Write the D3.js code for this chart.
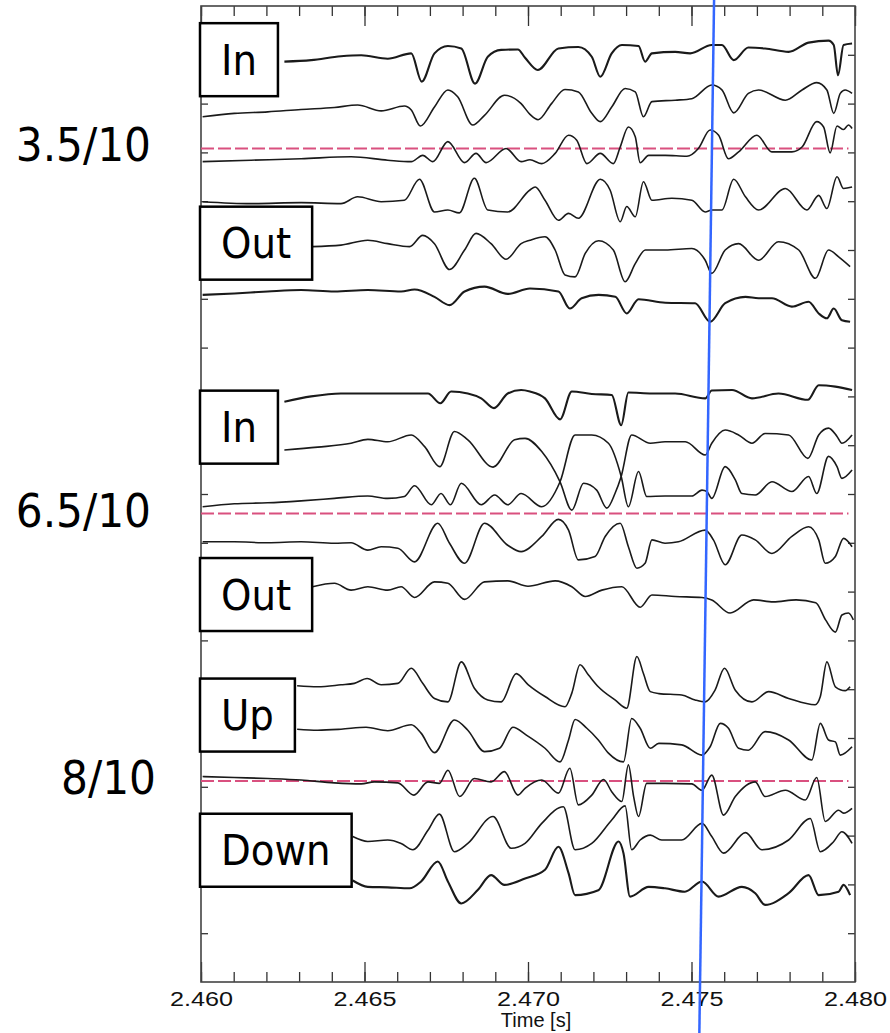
<!DOCTYPE html>
<html>
<head>
<meta charset="utf-8">
<script src="https://cdn.jsdelivr.net/npm/d3@7"></script>
<style>
  body { margin: 0; background: #fff; }
  svg { display: block; }
</style>
</head>
<body>
<svg id="chart" width="890" height="1033"></svg>
<script>
// time in ms after 2.460 s, signal in axis units (one unit per y tick)
var probeA1 = [[2.55,18.86],[3.37,18.89],[4.28,18.97],[4.90,18.99],[5.71,18.92],[6.43,19.03],[6.75,18.45],[7.14,19.03],[7.55,19.18],[7.96,19.13],[8.38,18.41],[8.77,18.96],[9.18,19.10],[9.69,19.11],[9.91,18.94],[10.30,18.69],[10.93,19.13],[11.54,19.16],[11.95,18.96],[12.21,18.55],[12.56,19.03],[12.87,19.20],[13.38,19.18],[13.58,18.86],[13.79,19.03],[14.50,19.06],[14.96,19.03],[15.62,19.20],[15.93,19.20],[16.29,18.89],[16.74,19.15],[17.25,19.13],[17.97,19.06],[18.58,19.25],[19.19,19.29],[19.35,19.20],[19.48,18.58],[19.65,19.20],[19.91,19.23]];
var probeA2 = [[0.05,17.73],[1.02,17.80],[2.04,17.83],[3.06,17.88],[4.08,17.92],[4.79,17.97],[5.51,17.85],[6.22,17.95],[6.43,17.87],[6.71,17.54],[7.14,17.93],[7.55,18.28],[7.85,18.14],[8.31,17.56],[8.67,17.76],[9.28,18.17],[9.79,18.00],[10.06,17.78],[10.31,17.67],[10.72,18.00],[11.13,18.29],[11.54,18.24],[11.95,17.80],[12.21,17.63],[12.56,17.93],[12.97,18.31],[13.28,18.24],[13.53,17.73],[13.79,18.04],[14.50,18.07],[15.01,18.10],[15.62,18.38],[15.93,18.28],[16.29,17.81],[16.74,18.21],[17.05,18.28],[17.87,18.07],[18.38,18.28],[18.83,18.43],[19.14,18.28],[19.35,17.80],[19.55,18.21],[19.70,18.28],[19.91,18.21]];
var probeA3 = [[0.05,16.81],[1.53,16.84],[3.06,16.87],[4.59,16.91],[5.71,16.84],[6.43,16.81],[6.78,16.94],[7.09,16.81],[7.55,17.22],[8.06,16.79],[8.41,16.98],[8.72,16.79],[9.33,17.08],[9.79,16.81],[10.06,16.85],[10.42,16.77],[10.83,16.98],[11.24,17.35],[11.49,17.25],[11.80,16.77],[12.21,16.98],[12.61,16.77],[12.82,17.11],[13.07,17.52],[13.28,17.32],[13.43,16.79],[13.69,16.94],[14.20,16.94],[14.86,16.92],[15.21,17.08],[15.57,17.46],[15.83,17.35],[16.13,16.87],[16.44,17.01],[17.00,17.35],[17.46,17.01],[18.07,17.01],[18.38,17.11],[18.83,17.63],[19.04,17.52],[19.24,16.99],[19.45,17.54],[19.65,17.47],[19.80,17.56],[19.91,17.49]];
var probeA4 = [[0.05,15.99],[1.53,15.95],[3.06,15.97],[4.28,15.95],[4.79,16.09],[5.51,15.99],[6.22,16.02],[6.68,16.45],[7.14,15.78],[7.55,15.82],[7.90,15.76],[8.36,16.47],[8.77,15.82],[9.38,15.78],[10.06,16.23],[10.22,16.29],[10.52,16.02],[10.93,15.61],[11.24,15.75],[11.54,15.65],[12.21,16.45],[12.51,16.23],[12.82,15.58],[13.02,15.89],[13.28,15.68],[13.53,16.40],[13.79,16.02],[14.40,16.06],[15.01,16.02],[15.42,15.78],[15.62,15.82],[15.93,15.82],[16.29,16.45],[16.65,16.09],[17.05,15.82],[17.87,16.26],[18.53,15.82],[18.89,16.12],[19.14,15.85],[19.45,16.50],[19.65,16.26],[19.91,16.29]];
var probeA5 = [[3.41,15.07],[4.28,15.10],[5.10,15.20],[5.71,15.13],[6.38,15.07],[6.78,15.30],[7.14,15.13],[7.60,14.60],[8.06,15.00],[8.41,15.34],[8.87,15.13],[9.33,14.81],[9.79,15.13],[10.06,15.20],[10.52,15.27],[10.83,15.00],[11.13,14.49],[11.44,14.45],[11.75,14.93],[12.16,15.19],[12.61,15.00],[12.97,14.35],[13.28,14.72],[13.59,15.00],[14.20,15.00],[15.01,15.03],[15.42,14.79],[15.62,14.52],[16.03,15.00],[16.44,15.13],[17.05,14.79],[17.66,15.17],[18.28,15.00],[18.79,14.42],[19.19,15.00],[19.50,14.86],[19.85,14.66]];
var probeA6 = [[0.05,14.08],[1.02,14.11],[2.04,14.15],[3.06,14.18],[4.08,14.15],[5.10,14.18],[6.12,14.15],[6.53,14.19],[7.14,14.04],[7.60,13.87],[8.06,14.15],[8.67,14.25],[9.38,14.10],[10.06,14.21],[10.93,14.15],[11.28,13.80],[11.64,14.01],[12.16,14.08],[12.67,14.04],[13.02,13.70],[13.38,13.99],[14.20,13.92],[15.11,13.91],[15.57,13.53],[16.03,13.91],[16.65,14.04],[17.05,14.01],[17.46,14.01],[18.07,13.84],[18.58,13.94],[18.89,13.70],[19.14,13.60],[19.35,13.80],[19.60,13.56],[19.85,13.53]];

var probeB1 = [[2.55,11.89],[3.37,12.00],[4.28,12.06],[5.10,12.06],[6.12,12.06],[6.94,12.06],[7.32,11.86],[7.65,12.10],[8.16,12.06],[8.57,11.96],[8.96,11.76],[9.38,12.06],[9.79,12.13],[10.06,12.10],[10.52,11.96],[10.98,11.53],[11.34,12.10],[11.95,12.05],[12.56,12.03],[12.85,11.41],[13.07,12.08],[13.79,12.06],[14.50,12.06],[15.42,11.96],[15.62,12.12],[16.24,12.13],[16.85,11.96],[17.66,12.06],[18.56,11.93],[18.89,12.23],[19.40,12.20],[19.91,12.13]];
var probeB2 = [[2.55,10.90],[3.57,10.96],[4.59,11.04],[5.10,11.12],[5.71,11.07],[6.43,11.21],[6.84,10.97],[7.30,10.56],[7.75,11.28],[8.16,11.11],[8.93,10.55],[9.59,11.11],[9.91,11.14],[10.42,10.87],[10.98,10.25],[11.34,9.67],[11.70,10.22],[12.10,10.08],[12.41,9.71],[12.66,10.01],[12.85,10.36],[13.17,11.21],[13.74,11.04],[14.19,11.07],[14.81,11.07],[15.42,10.80],[15.62,11.04],[16.03,11.31],[16.44,11.21],[16.85,11.04],[17.25,11.24],[17.97,11.21],[18.56,10.73],[18.89,11.21],[19.19,11.35],[19.45,11.18],[19.60,11.04],[19.91,11.21]];
var probeB3 = [[0.05,9.74],[1.02,9.80],[2.04,9.82],[3.06,9.86],[4.08,9.91],[5.10,9.96],[5.71,9.91],[6.22,9.95],[6.53,10.17],[7.04,9.78],[7.34,10.01],[7.63,9.78],[7.96,10.22],[8.57,9.78],[8.98,9.98],[9.38,9.78],[9.79,10.01],[10.42,9.74],[10.98,10.25],[11.44,11.21],[11.95,11.21],[12.46,11.04],[12.85,10.36],[13.07,9.74],[13.38,10.46],[13.63,9.95],[14.19,9.96],[15.01,9.96],[15.32,10.08],[15.47,10.05],[15.62,9.91],[16.03,10.56],[16.34,10.29],[16.54,10.01],[16.95,9.98],[17.46,10.25],[18.07,10.05],[18.58,10.36],[18.83,10.01],[19.19,10.77],[19.45,10.56],[19.60,10.32],[19.91,10.49]];
var probeB4 = [[0.05,9.02],[1.02,9.02],[2.04,9.00],[3.06,9.02],[4.08,8.99],[4.59,9.00],[5.10,8.85],[5.51,8.92],[6.02,8.89],[6.53,8.61],[7.24,9.40],[7.60,8.99],[8.06,8.58],[8.67,9.40],[9.38,8.95],[9.79,8.82],[10.42,9.13],[10.93,9.48],[11.24,9.26],[11.54,8.65],[12.05,8.72],[12.36,9.13],[12.82,9.40],[13.07,8.92],[13.33,8.48],[13.58,8.58],[13.79,9.06],[14.19,8.99],[14.60,9.02],[15.42,9.26],[15.67,9.06],[16.03,8.55],[16.54,9.16],[16.95,9.06],[17.46,8.78],[18.07,9.13],[18.58,9.33],[18.89,9.06],[19.09,8.58],[19.40,8.72],[19.65,9.09],[19.91,8.92]];
var probeB5 = [[3.41,8.10],[4.08,8.17],[4.59,8.03],[5.10,8.10],[5.71,8.03],[6.12,8.10],[6.53,7.88],[7.14,8.20],[7.55,8.17],[8.06,7.84],[8.67,8.20],[9.38,8.22],[10.00,8.11],[10.83,8.22],[11.34,8.10],[11.75,7.90],[12.26,8.03],[12.87,8.10],[13.43,7.68],[13.79,7.93],[14.50,7.90],[15.32,7.88],[15.62,7.83],[16.18,7.56],[16.90,7.83],[17.50,7.79],[18.20,7.83],[18.80,7.77],[19.10,7.42],[19.40,7.17],[19.60,7.52],[19.80,7.56],[19.95,7.42]];

var probeC1 = [[2.94,6.07],[3.57,6.05],[4.28,6.09],[4.69,6.12],[5.08,6.22],[5.51,6.09],[6.02,6.12],[6.43,6.43],[6.78,6.12],[7.14,5.81],[7.55,5.74],[7.96,6.56],[8.36,6.02],[8.77,5.78],[9.18,5.74],[9.64,6.32],[10.01,6.09],[10.52,5.85],[11.13,5.64],[11.34,5.92],[11.59,6.50],[11.85,6.29],[12.15,6.05],[12.66,5.78],[13.02,5.61],[13.33,6.67],[13.53,6.32],[13.74,5.95],[14.00,5.91],[14.70,5.88],[15.11,5.78],[15.42,5.74],[15.72,5.98],[16.01,6.43],[16.34,5.98],[16.85,5.74],[17.36,5.95],[17.97,5.81],[18.78,5.68],[18.94,5.85],[19.14,6.56],[19.40,6.05],[19.70,5.97],[19.85,6.05]];
var probeC2 = [[2.94,5.18],[3.57,5.16],[4.28,5.18],[5.05,5.22],[5.71,5.15],[6.43,5.27],[6.73,5.10],[7.14,4.70],[7.75,5.37],[8.16,5.16],[8.67,4.72],[9.13,4.79],[9.54,5.22],[9.95,5.06],[10.52,4.79],[10.98,4.51],[11.24,4.96],[11.44,5.38],[11.80,5.20],[12.15,4.96],[12.46,4.69],[12.92,4.51],[13.17,5.40],[13.43,5.20],[13.74,4.79],[14.00,4.89],[14.70,4.86],[15.32,4.65],[15.57,4.82],[15.88,5.30],[16.13,5.20],[16.44,4.79],[16.74,4.75],[17.25,5.13],[17.97,4.96],[18.68,4.55],[18.94,5.30],[19.19,4.96],[19.40,4.92],[19.55,4.65],[19.91,4.82]];
var probeC3 = [[0.05,4.21],[1.02,4.19],[2.04,4.17],[3.06,4.14],[4.08,4.08],[4.90,4.06],[5.30,4.10],[6.02,4.08],[6.51,3.83],[6.94,4.10],[7.29,4.07],[7.55,4.34],[7.91,3.80],[8.36,4.17],[8.87,4.10],[9.28,4.31],[9.69,3.83],[9.91,3.97],[10.42,4.14],[10.93,3.87],[11.28,4.38],[11.54,3.63],[11.95,3.83],[12.31,4.15],[12.56,3.90],[12.87,3.70],[13.07,4.45],[13.23,3.80],[13.38,3.39],[13.63,4.07],[14.19,4.07],[15.01,4.06],[15.32,3.93],[15.62,4.24],[15.98,3.42],[16.34,3.80],[16.95,4.10],[17.25,3.80],[17.87,3.93],[18.48,3.73],[18.83,4.19],[19.09,3.29],[19.50,3.52],[19.65,3.46],[19.91,3.56]];
var probeC4 = [[4.64,2.98],[5.10,2.88],[5.71,2.91],[6.12,2.84],[6.48,2.71],[6.94,3.11],[7.29,3.44],[7.75,2.67],[8.16,2.84],[8.93,3.39],[9.49,2.74],[9.91,2.84],[10.42,3.25],[11.08,3.59],[11.44,2.71],[11.95,2.84],[12.56,3.32],[12.97,3.61],[13.17,2.71],[13.43,2.91],[13.74,3.01],[14.09,2.91],[14.70,2.91],[15.32,3.25],[15.62,2.98],[15.98,2.64],[16.65,3.06],[17.15,2.71],[17.97,2.91],[18.63,3.35],[18.94,2.67],[19.35,2.88],[19.60,3.08],[19.91,2.84]];
var probeC5 = [[4.64,2.08],[5.10,1.95],[5.71,1.94],[6.38,1.92],[6.73,2.06],[7.24,2.47],[7.55,2.06],[7.96,1.61],[8.47,1.89],[8.87,2.19],[9.28,1.99],[9.91,2.12],[10.52,2.30],[10.93,2.77],[11.24,2.23],[11.44,1.78],[12.15,1.88],[12.77,2.88],[12.92,2.64],[13.12,1.75],[13.69,1.95],[14.19,1.92],[14.80,1.85],[15.32,2.06],[15.83,1.75],[16.54,1.95],[16.95,1.82],[17.25,1.58],[17.97,1.82],[18.58,2.19],[18.89,1.78],[19.50,1.85],[19.65,1.99],[19.85,1.78]];

var refLevels = [17.08, 9.60, 4.12];       // dashed reference lines
var refEnd = 19.8;
var ratioLabels = ['3.5/10', '6.5/10', '8/10'];
var boxLabels = ['In', 'Out', 'In', 'Out', 'Up', 'Down'];
var boxLevels = [18.90, 15.14, 11.37, 7.94, 5.47, 2.70];
var majorTicks = [0, 5, 10, 15, 20];
var tickLabels = ['2.460', '2.465', '2.470', '2.475', '2.480'];
var cursorTimes = [15.69, 15.24];          // blue marker, top and bottom of the picture

var traces = [probeA1, probeA2, probeA3, probeA4, probeA5, probeA6,
    probeB1, probeB2, probeB3, probeB4, probeB5,
    probeC1, probeC2, probeC3, probeC4, probeC5];
// the noisier channels look a bit heavier in the original
var noisy = [probeA1, probeA6, probeB1, probeC5];

var width = 890, height = 1033;
var plot = {left: 201, right: 855, top: 6, bottom: 982};
var svg = d3.select('#chart');

var x = d3.scaleLinear().domain([0, 20]).range([plot.left, plot.right]);
var y = d3.scaleLinear().domain([0, 20]).range([plot.bottom, plot.top]);

// ticks, all pointing inward
function noDomain(g) { g.select('.domain').remove(); }

svg.append('g')
    .attr('transform', 'translate(0,' + plot.bottom + ')')
    .call(d3.axisBottom(x).tickValues(d3.range(0, 21)).tickSize(-10).tickFormat(''))
    .call(noDomain);
var xMajor = svg.append('g')
    .attr('transform', 'translate(0,' + plot.bottom + ')')
    .call(d3.axisBottom(x).tickValues(majorTicks).tickSize(-20).tickPadding(9)
        .tickFormat(function (d, i) { return tickLabels[i]; }))
    .call(noDomain);
svg.append('g')
    .attr('transform', 'translate(0,' + plot.top + ')')
    .call(d3.axisTop(x).tickValues(d3.range(0, 21)).tickSize(-10).tickFormat(''))
    .call(noDomain);
svg.append('g')
    .attr('transform', 'translate(0,' + plot.top + ')')
    .call(d3.axisTop(x).tickValues(majorTicks).tickSize(-20).tickFormat(''))
    .call(noDomain);
svg.append('g')
    .attr('transform', 'translate(' + plot.left + ',0)')
    .call(d3.axisLeft(y).tickValues(d3.range(1, 20)).tickSize(-7).tickFormat(''))
    .call(noDomain);
svg.append('g')
    .attr('transform', 'translate(' + plot.right + ',0)')
    .call(d3.axisRight(y).tickValues(d3.range(1, 20)).tickSize(-7).tickFormat(''))
    .call(noDomain);

svg.selectAll('.tick line').attr('stroke', '#333').attr('stroke-width', 1.3);
// tick numbers are drawn a little wide in the original
xMajor.selectAll('text')
    .style('font-family', "'Liberation Sans', Arial, sans-serif")
    .style('font-size', '21px')
    .attr('transform', 'scale(1.2,1)')
    .attr('fill', '#111');

svg.append('text')
    .attr('x', 536)
    .attr('y', plot.bottom + 45)
    .attr('text-anchor', 'middle')
    .style('font-family', "'Liberation Sans', Arial, sans-serif")
    .style('font-size', '20px')
    .attr('fill', '#111')
    .text('Time [s]');

// frame
svg.append('rect')
    .attr('x', plot.left).attr('y', plot.top)
    .attr('width', plot.right - plot.left).attr('height', plot.bottom - plot.top)
    .attr('fill', 'none').attr('stroke', '#444').attr('stroke-width', 1.6);

// dashed reference levels
svg.selectAll('.ref')
    .data(refLevels)
    .enter().append('line')
    .attr('class', 'ref')
    .attr('x1', x(0)).attr('x2', x(refEnd))
    .attr('y1', function (d) { return y(d); })
    .attr('y2', function (d) { return y(d); })
    .attr('stroke', '#d9507f')
    .attr('stroke-width', 2)
    .attr('stroke-dasharray', '13,4');

// signals
var line = d3.line()
    .x(function (d) { return x(d[0]); })
    .y(function (d) { return y(d[1]); })
    .curve(d3.curveMonotoneX);

svg.selectAll('.trace')
    .data(traces)
    .enter().append('path')
    .attr('class', 'trace')
    .attr('d', line)
    .attr('fill', 'none')
    .attr('stroke', '#1a1a1a')
    .attr('stroke-width', function (d) { return noisy.indexOf(d) >= 0 ? 2.1 : 1.6; })
    .attr('stroke-linejoin', 'round');

// labelled boxes
var labelFont = "Tahoma, 'DejaVu Sans Condensed', 'DejaVu Sans', sans-serif";
var boxes = svg.selectAll('.box')
    .data(boxLabels)
    .enter().append('g')
    .attr('class', 'box')
    .attr('transform', function (d, i) { return 'translate(' + (plot.left - 1) + ',' + y(boxLevels[i]) + ')'; });

var boxRects = boxes.append('rect');
var boxTexts = boxes.append('text')
    .attr('x', 21)
    .attr('y', 15)
    .style('font-family', labelFont)
    .style('font-size', '43px')
    .attr('fill', '#000')
    .text(function (d) { return d; });

boxRects
    .attr('x', 0)
    .attr('y', -36.5)
    .attr('height', 73)
    .attr('width', function (d, i) { return boxTexts.nodes()[i].getComputedTextLength() + 42; })
    .attr('fill', '#fff')
    .attr('stroke', '#000')
    .attr('stroke-width', 2.5);

// ratio labels at the left
svg.selectAll('.ratio')
    .data(ratioLabels)
    .enter().append('text')
    .attr('class', 'ratio')
    .attr('x', function (d, i) { return i === 2 ? 156 : 151; })
    .attr('y', function (d, i) { return y(refLevels[i]) + 13; })
    .attr('text-anchor', 'end')
    .style('font-family', labelFont)
    .style('font-size', '47px')
    .attr('fill', '#000')
    .text(function (d) { return d; });

// blue time marker
svg.append('line')
    .attr('x1', x(cursorTimes[0])).attr('y1', 0)
    .attr('x2', x(cursorTimes[1])).attr('y2', height)
    .attr('stroke', '#3366ff')
    .attr('stroke-width', 2.5);
</script>
</body>
</html>
